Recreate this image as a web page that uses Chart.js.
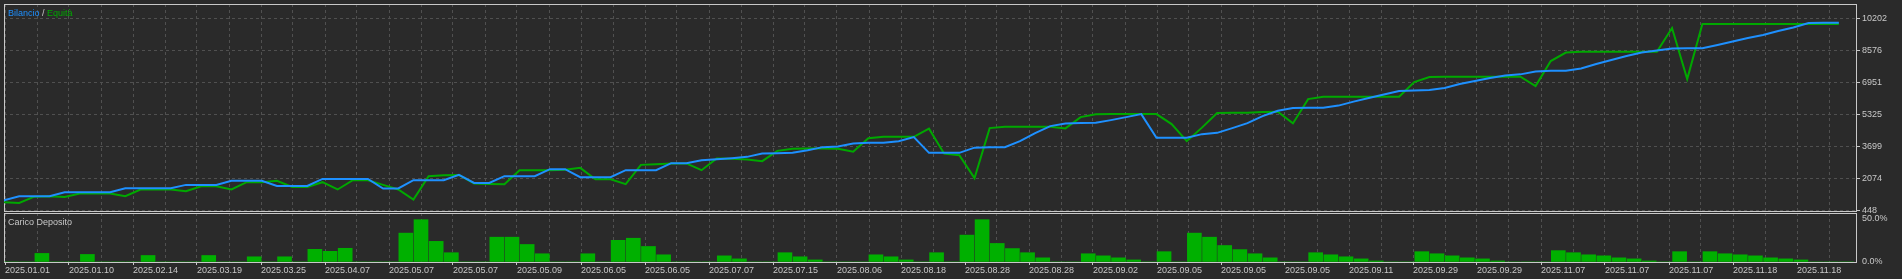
<!DOCTYPE html>
<html>
<head>
<meta charset="utf-8">
<script src="https://cdn.jsdelivr.net/npm/chart.js@4.4.1/dist/chart.umd.min.js"></script>
<style>
  html, body { margin: 0; padding: 0; background: #2a2a2a; width: 1902px; height: 279px; overflow: hidden; }
  #wrap { position: relative; width: 1902px; height: 279px; }
  canvas { position: absolute; left: 0; }
  #cnvEquity { top: 0; }
  #cnvLoad { top: 211px; }
  .titolo { position: absolute; left: 8px; font: 9px 'Liberation Sans', Arial, sans-serif; line-height: 12px; white-space: nowrap; }
</style>
</head>
<body>
<div id="wrap">
  <canvas id="cnvEquity" width="1902" height="213"></canvas>
  <canvas id="cnvLoad" width="1902" height="68"></canvas>
  <div class="titolo" style="top:7px"><span style="color:#1e90ff">Bilancio</span><span style="color:#c8c8c8"> / </span><span style="color:#00a800">Equità</span></div>
  <div class="titolo" style="top:216px; color:#c8c8c8">Carico Deposito</div>
</div>
<script>
// valori (un punto per operazione)
const bilancio = [
  971, 1174, 1174, 1174, 1378, 1378, 1378, 1378, 1581, 1581,
  1581, 1581, 1748, 1748, 1748, 1952, 1952, 1952, 1698, 1698,
  1698, 2053, 2053, 2053, 2053, 1566, 1566, 1987, 1987, 1987,
  2256, 1850, 1850, 2190, 2190, 2190, 2546, 2546, 2140, 2140,
  2140, 2495, 2495, 2495, 2851, 2851, 3003, 3054, 3105, 3171,
  3344, 3359, 3384, 3511, 3664, 3699, 3852, 3882, 3882, 3968,
  4172, 3374, 3374, 3374, 3638, 3664, 3664, 3968, 4375, 4730,
  4868, 4883, 4898, 5035, 5188, 5340, 4136, 4136, 4136, 4324,
  4390, 4629, 4883, 5238, 5508, 5645, 5660, 5660, 5772, 5975,
  6153, 6331, 6508, 6534, 6559, 6661, 6864, 7016, 7169, 7296,
  7357, 7499, 7540, 7540, 7651, 7880, 8083, 8286, 8464, 8566,
  8667, 8678, 8678, 8845, 9023, 9201, 9353, 9556, 9734, 9963,
  9978, 9978
];
const equita = [
  870, 834, 1149, 1174, 1139, 1312, 1312, 1312, 1174, 1515,
  1515, 1515, 1428, 1682, 1682, 1515, 1886, 1886, 1952, 1647,
  1647, 1886, 1515, 1987, 1987, 1748, 1515, 1007, 2190, 2241,
  2256, 1820, 1799, 1784, 2495, 2495, 2495, 2521, 2612, 2038,
  2038, 1784, 2764, 2800, 2836, 2836, 2495, 3090, 3069, 3039,
  2952, 3476, 3577, 3598, 3598, 3587, 3435, 4121, 4187, 4187,
  4187, 4603, 3333, 3257, 2089, 4629, 4695, 4695, 4695, 4695,
  4614, 5188, 5330, 5340, 5340, 5340, 5340, 4832, 3968, 4654,
  5391, 5406, 5406, 5442, 5457, 4868, 6102, 6219, 6219, 6219,
  6219, 6219, 6219, 6966, 7220, 7235, 7235, 7235, 7235, 7235,
  7235, 6762, 8032, 8464, 8505, 8505, 8505, 8505, 8505, 8505,
  9709, 7118, 9912, 9912, 9912, 9912, 9912, 9912, 9912, 9912,
  9912, 9912
];
// carico deposito in %
const caricoDeposito = [
  0, 0, 9.9, 0, 0, 8.7, 0, 0, 0, 7.5,
  0, 0, 0, 7.5, 0, 0, 6.0, 0, 6.0, 0,
  14.6, 12.3, 15.8, 0, 0, 0, 33.3, 48.8, 23.8, 10.7,
  0, 0, 28.6, 28.6, 20.2, 9.5, 0, 0, 9.5, 0,
  25.0, 27.4, 17.9, 8.3, 0, 0, 0, 7.1, 3.6, 0,
  0, 10.7, 6.0, 2.4, 0, 0, 0, 8.3, 6.0, 2.4,
  0, 10.7, 0, 31.0, 48.8, 21.4, 15.5, 10.7, 4.8, 0,
  0, 9.5, 7.1, 4.8, 2.4, 0, 11.9, 0, 33.3, 28.6,
  19.0, 14.3, 9.5, 4.8, 0, 0, 10.7, 8.3, 6.0, 3.6,
  1.2, 0, 0, 11.9, 9.5, 7.1, 4.8, 3.6, 1.2, 0,
  0, 0, 13.1, 10.7, 8.3, 7.1, 4.8, 3.6, 1.2, 0,
  11.9, 0, 11.9, 9.5, 8.3, 7.1, 4.8, 3.6, 2.4, 0,
  0, 0
];
const etichetteDate = [
  '2025.01.01', '2025.01.10', '2025.02.14', '2025.03.19', '2025.03.25', '2025.04.07',
  '2025.05.07', '2025.05.07', '2025.05.09', '2025.06.05', '2025.06.05', '2025.07.07',
  '2025.07.15', '2025.08.06', '2025.08.18', '2025.08.28', '2025.08.28', '2025.09.02',
  '2025.09.05', '2025.09.05', '2025.09.05', '2025.09.11', '2025.09.29', '2025.09.29',
  '2025.11.07', '2025.11.07', '2025.11.07', '2025.11.18', '2025.11.18'
];
const tacchePatrimonio = [448, 2074, 3699, 5325, 6951, 8576, 10202];
const taccheCarico = [0, 50];

// stile
const coloreTesto = '#c8c8c8';
const coloreCornice = '#c8c8c8';
const coloreGriglia = '#505050';
const tratteggio = [3, 3];
Chart.defaults.font.family = "'Liberation Sans', Arial, sans-serif";
Chart.defaults.font.size = 9;
Chart.defaults.color = coloreTesto;

// larghezza dell'area: 1852 px, un'operazione ogni 15.164 px, griglia ogni 32 px
const larghezzaArea = 1852;
const pxOperazione = 15.164;
const pxCella = 32;
const xMax = larghezzaArea / pxOperazione;

function taccheX(scale) {
    const t = [];
    for (let k = 0; k * pxCella + 1 <= larghezzaArea; k++) {
        t.push({ value: (k * pxCella + 1) / pxOperazione });
    }
    scale.ticks = t;
}

// cornice intorno all'area del grafico
const cornice = {
    id: 'cornice',
    beforeDatasetsDraw(chart) {
        const a = chart.chartArea;
        const ctx = chart.ctx;
        ctx.save();
        ctx.strokeStyle = coloreCornice;
        ctx.lineWidth = 1;
        ctx.strokeRect(a.left + 0.5, a.top + 0.5, a.right - a.left, a.bottom - a.top);
        ctx.restore();
    }
};

function asseDestro(scale) {
    scale.width = 46;
    scale.paddingTop = 0;
    scale.paddingBottom = 0;
}

new Chart(document.getElementById('cnvEquity'), {
    type: 'line',
    data: {
        datasets: [
            {
                label: 'Bilancio',
                data: bilancio.map((v, i) => ({ x: i, y: v })),
                borderColor: '#1e90ff',
                borderWidth: 2,
                pointRadius: 0,
                tension: 0
            },
            {
                label: 'Equità',
                data: equita.map((v, i) => ({ x: i, y: v })),
                borderColor: '#00a800',
                borderWidth: 2,
                pointRadius: 0,
                tension: 0
            }
        ]
    },
    options: {
        responsive: false,
        animation: false,
        events: [],
        layout: { padding: { left: 4, top: 4, right: 0, bottom: 2 } },
        plugins: { legend: { display: false }, tooltip: { enabled: false } },
        scales: {
            x: {
                type: 'linear',
                min: 0,
                max: xMax,
                bounds: 'data',
                offset: false,
                afterBuildTicks: taccheX,
                ticks: { display: false },
                grid: { color: coloreGriglia, drawTicks: false, offset: false },
                border: { display: false, dash: tratteggio },
                afterFit: s => { s.height = 0; }
            },
            y: {
                position: 'right',
                min: 423,
                max: 10928,
                bounds: 'data',
                afterBuildTicks: s => { s.ticks = tacchePatrimonio.map(v => ({ value: v })); },
                ticks: {
                    padding: 2,
                    color: coloreTesto,
                    callback: (v, i) => String(tacchePatrimonio[i])
                },
                grid: { color: coloreGriglia, tickLength: 4, tickColor: coloreCornice },
                border: { display: false, dash: tratteggio },
                afterFit: asseDestro
            }
        }
    },
    plugins: [cornice]
});

new Chart(document.getElementById('cnvLoad'), {
    type: 'bar',
    data: {
        datasets: [{
            label: 'Carico Deposito',
            data: caricoDeposito.map((v, i) => ({ x: i + 0.5, y: v })),
            backgroundColor: '#00b000',
            borderWidth: 0,
            barThickness: 14
        }]
    },
    options: {
        responsive: false,
        animation: false,
        events: [],
        layout: { padding: { left: 4, top: 2, right: 0, bottom: 0 } },
        plugins: { legend: { display: false }, tooltip: { enabled: false } },
        scales: {
            x: {
                type: 'linear',
                min: 0,
                max: xMax,
                bounds: 'data',
                offset: false,
                afterBuildTicks: taccheX,
                ticks: {
                    autoSkip: false,
                    maxRotation: 0,
                    minRotation: 0,
                    align: 'start',
                    padding: 0,
                    color: coloreTesto,
                    callback: (v, i) => (i % 2 === 0 ? etichetteDate[i / 2] : '')
                },
                grid: {
                    color: coloreGriglia,
                    offset: false,
                    tickLength: 3,
                    tickColor: c => (c.index % 2 === 0 ? coloreCornice : 'rgba(0,0,0,0)')
                },
                border: { display: false, dash: tratteggio },
                afterFit: s => { s.height = 17; s.paddingLeft = 0; s.paddingRight = 0; }
            },
            y: {
                position: 'right',
                min: 0,
                max: 56.5,
                bounds: 'data',
                afterBuildTicks: s => { s.ticks = taccheCarico.map(v => ({ value: v })); },
                ticks: {
                    padding: 2,
                    color: coloreTesto,
                    callback: (v, i) => taccheCarico[i].toFixed(1) + '%'
                },
                grid: { drawOnChartArea: false, tickLength: 4, tickColor: 'rgba(0,0,0,0)' },
                border: { display: false },
                afterFit: asseDestro
            }
        }
    },
    plugins: [cornice]
});
</script>
</body>
</html>
